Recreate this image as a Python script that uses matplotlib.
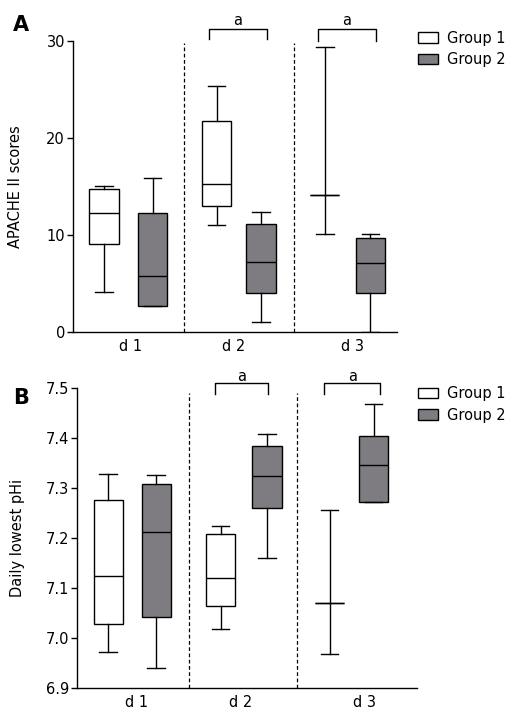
import numpy as np
import matplotlib
matplotlib.use('Agg')
import matplotlib.pyplot as plt
from matplotlib.patches import Patch

plt.rcParams['font.family'] = ['DejaVu Sans']

# categories / groups
days = ['d 1', 'd 2', 'd 3']
groups = ['Group 1', 'Group 2']

# Panel A: APACHE II scores (min, q1, median, q3, max) per day
apache_g1_min = [4.05, 10.96, 10.03]
apache_g1_q1 = [9.0, 13.0, 14.05]
apache_g1_med = [12.2, 15.2, 14.05]
apache_g1_q3 = [14.67, 21.7, 14.05]
apache_g1_max = [15.05, 25.3, 29.4]

apache_g2_min = [2.6, 0.96, 0.0]
apache_g2_q1 = [2.6, 3.95, 3.95]
apache_g2_med = [5.7, 7.2, 7.11]
apache_g2_q3 = [12.2, 11.07, 9.62]
apache_g2_max = [15.8, 12.3, 10.03]

# Panel B: daily lowest pHi
phi_g1_min = [6.972, 7.018, 6.968]
phi_g1_q1 = [7.028, 7.064, 7.07]
phi_g1_med = [7.125, 7.12, 7.07]
phi_g1_q3 = [7.276, 7.209, 7.07]
phi_g1_max = [7.329, 7.224, 7.256]

phi_g2_min = [6.94, 7.161, 7.272]
phi_g2_q1 = [7.042, 7.26, 7.272]
phi_g2_med = [7.213, 7.324, 7.346]
phi_g2_q3 = [7.308, 7.384, 7.405]
phi_g2_max = [7.326, 7.408, 7.469]

gray = '#7f7c81'


def make_stats(lo, q1, med, q3, hi):
    return [dict(whislo=a, q1=b, med=c, q3=d, whishi=e, fliers=[])
            for a, b, c, d, e in zip(lo, q1, med, q3, hi)]


def draw_boxes(ax, stats, pos, width, face):
    ax.bxp(stats, positions=pos, widths=width, capwidths=width * 0.6,
           patch_artist=True, showfliers=False, manage_ticks=False,
           boxprops=dict(facecolor=face, edgecolor='black', linewidth=1.0),
           medianprops=dict(color='black', linewidth=1.0),
           whiskerprops=dict(color='black', linewidth=1.0),
           capprops=dict(color='black', linewidth=1.0))


def style_axes(ax):
    ax.spines['top'].set_visible(False)
    ax.spines['right'].set_visible(False)
    ax.spines['left'].set_linewidth(1.0)
    ax.spines['bottom'].set_linewidth(1.0)
    ax.tick_params(axis='x', length=0, pad=5, labelsize=10.5)
    ax.tick_params(axis='y', length=4, width=1.0, labelsize=10.5, pad=2)
    ax.set_xlim(0, 3)


def bracket(ax, x0, x1, ytop, ybot, ytext):
    ax.plot([x0, x0, x1, x1], [ybot, ytop, ytop, ybot], color='black',
            lw=1.0, clip_on=False)
    ax.text((x0 + x1) / 2, ytext, 'a', ha='center', va='center', fontsize=10.5)


fig = plt.figure(figsize=(5.19, 7.22), dpi=100)

# ---- Panel A ----
axA = fig.add_axes([0.1413, 0.5406, 0.6231, 0.403])
wA = 0.272
draw_boxes(axA, make_stats(apache_g1_min, apache_g1_q1, apache_g1_med, apache_g1_q3, apache_g1_max),
           [0.285, 1.330, 2.333], wA, 'white')
draw_boxes(axA, make_stats(apache_g2_min, apache_g2_q1, apache_g2_med, apache_g2_q3, apache_g2_max),
           [0.736, 1.741, 2.756], wA, gray)
style_axes(axA)
axA.set_ylim(0, 30)
axA.set_yticks([0, 10, 20, 30])
axA.set_xticks([0.527, 1.483, 2.586])
axA.set_xticklabels(days)
for xd in [1.022, 2.043]:
    axA.plot([xd, xd], [0, 29.8], color='black', lw=0.9, ls=(0, (3, 2)))
axA.set_ylabel('APACHE II scores', fontsize=10.5)
axA.yaxis.set_label_coords(-0.156, 0.5)
bracket(axA, 1.262, 1.794, 31.2, 30.2, 32.1)
bracket(axA, 2.273, 2.805, 31.18, 30.0, 32.1)

# ---- Panel B ----
axB = fig.add_axes([0.1489, 0.0467, 0.654, 0.4155])
wB = 0.258
draw_boxes(axB, make_stats(phi_g1_min, phi_g1_q1, phi_g1_med, phi_g1_q3, phi_g1_max),
           [0.273, 1.266, 2.23], wB, 'white')
draw_boxes(axB, make_stats(phi_g2_min, phi_g2_q1, phi_g2_med, phi_g2_q3, phi_g2_max),
           [0.698, 1.677, 2.62], wB, gray)
style_axes(axB)
axB.set_ylim(6.9, 7.5)
axB.set_yticks(np.arange(6.9, 7.51, 0.1))
axB.set_yticklabels(['6.9', '7.0', '7.1', '7.2', '7.3', '7.4', '7.5'])
axB.set_xticks([0.525, 1.445, 2.538])
axB.set_xticklabels(days)
for xd in [0.985, 1.945]:
    axB.plot([xd, xd], [6.9, 7.49], color='black', lw=0.9, ls=(0, (3, 2)))
axB.set_ylabel('Daily lowest pHi', fontsize=10.5)
axB.yaxis.set_label_coords(-0.154, 0.5)
bracket(axB, 1.217, 1.686, 7.51, 7.488, 7.523)
bracket(axB, 2.181, 2.679, 7.51, 7.488, 7.523)

# legends
handles = [Patch(facecolor='white', edgecolor='black', lw=1.0),
           Patch(facecolor=gray, edgecolor='black', lw=1.0)]
for ytop in [1 - 30.5 / 722, 1 - 386 / 722]:
    fig.legend(handles, groups, loc='upper left', bbox_to_anchor=(0.805, ytop),
               frameon=False, fontsize=10.5, handlelength=1.4, handleheight=0.75,
               handletextpad=0.6, labelspacing=0.45, borderpad=0, borderaxespad=0)

# panel letters
fig.text(0.0395, 0.9654, 'A', fontsize=15, fontweight='bold', ha='center', va='center')
fig.text(0.0414, 0.4483, 'B', fontsize=15, fontweight='bold', ha='center', va='center')

fig.savefig('out.png', dpi=100)
